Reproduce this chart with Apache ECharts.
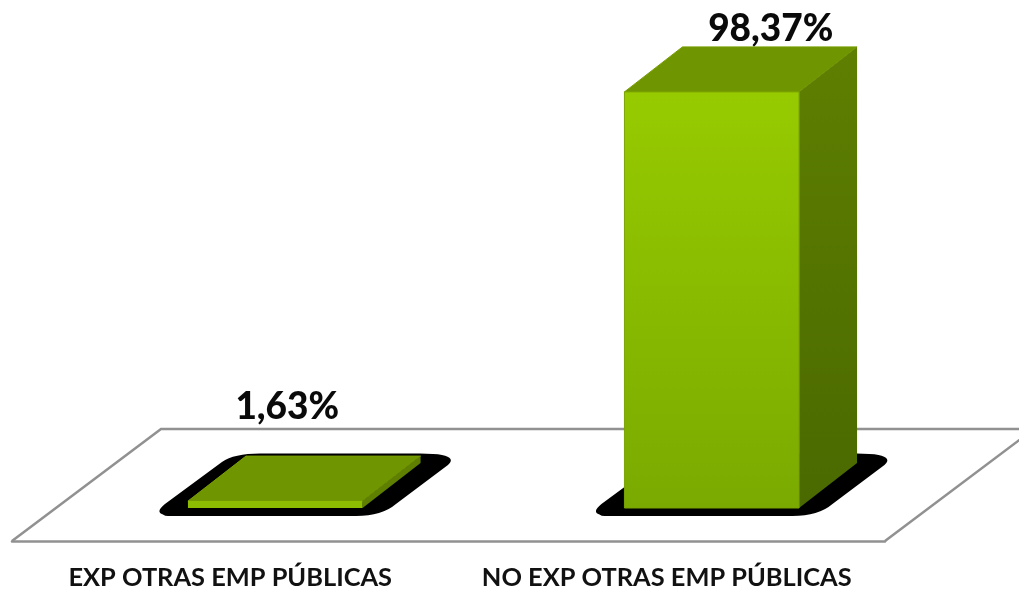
<!DOCTYPE html>
<html>
<head>
<meta charset="utf-8">
<style>
  html, body { margin: 0; padding: 0; background: #fff; }
  #chart { width: 1019px; height: 590px; }
</style>
<script src="https://cdn.jsdelivr.net/npm/echarts@6/dist/echarts.min.js"></script>
</head>
<body>
<div id="chart"></div>
<script>
var categories = ["EXP OTRAS EMP PÚBLICAS", "NO EXP OTRAS EMP PÚBLICAS"];
var values = [1.63, 98.37];
var valueLabels = ["1,63%", "98,37%"];

// the labels were placed by hand in the original, so each has its own nudge
var labelNudge = [[12, -94], [59, -63]];

var FONT = "Lato, 'Open Sans', sans-serif";
var FLOOR_DX = 149, FLOOR_DY = 112;
var SHIFT_X = 45, SHIFT_Y = 33; // bars stand in the middle of the floor depth
var DEPTH_X = 58, DEPTH_Y = 45;

function vgrad(top, bottom) {
  return new echarts.graphic.LinearGradient(0, 0, 0, 1, [
    { offset: 0, color: top },
    { offset: 1, color: bottom }
  ]);
}

var shadowPath =
  "M-20,8 L168,8 Q194,8 208,-4 L260,-43 Q268,-50 254,-53 Q247,-54.5 232,-54.5 " +
  "L72,-54.5 Q46,-54.5 34,-46 L-23,-4 Q-33,4 -25,6.5 Q-23,8 -20,8 Z";

function renderFloor(params) {
  var c = params.coordSys;
  var x0 = c.x, x1 = c.x + c.width, y0 = c.y + c.height;
  return {
    type: "polyline",
    shape: {
      points: [
        [x0, y0],
        [x0 + FLOOR_DX, y0 - FLOOR_DY],
        [x1 + FLOOR_DX, y0 - FLOOR_DY],
        [x1, y0]
      ]
    },
    style: { stroke: "#919191", lineWidth: 2.5, fill: null }
  };
}

function renderBar(params, api) {
  var i = api.value(0);
  var base = api.coord([i, 0]);
  var top = api.coord([i, api.value(1)]);
  var w = api.size([1, 0])[0] * 0.4;
  var l = base[0] - w / 2 + SHIFT_X;
  var r = l + w;
  var by = base[1] - SHIFT_Y;
  var ty = top[1] - SHIFT_Y;
  var tall = by - ty > 50;

  return {
    type: "group",
    children: [
      {
        type: "path",
        x: l,
        y: by,
        shape: { pathData: shadowPath },
        style: { fill: "#000" }
      },
      {
        type: "polygon",
        shape: { points: [[l, ty], [l + DEPTH_X, ty - DEPTH_Y], [r + DEPTH_X, ty - DEPTH_Y], [r, ty]] },
        style: { fill: "#6f9500", stroke: "#779e00", lineWidth: 1 }
      },
      {
        type: "polygon",
        shape: { points: [[r, ty], [r + DEPTH_X, ty - DEPTH_Y], [r + DEPTH_X, by - DEPTH_Y], [r, by]] },
        style: { fill: tall ? vgrad("#5e7f00", "#4a6900") : "#5e7f00" }
      },
      {
        type: "rect",
        shape: { x: l, y: ty, width: w, height: by - ty },
        style: { fill: tall ? vgrad("#97cb00", "#7aaa00") : "#8dbd00", stroke: "#7ba300", lineWidth: tall ? 1 : 0 }
      },
      {
        type: "text",
        x: base[0] + SHIFT_X + labelNudge[i][0],
        y: ty + labelNudge[i][1],
        style: {
          text: valueLabels[i],
          font: "900 37px " + FONT,
          fill: "#0a0a0a",
          align: "center",
          verticalAlign: "middle"
        }
      }
    ]
  };
}

var chart = echarts.init(document.getElementById("chart"));
chart.setOption({
  animation: false,
  backgroundColor: "#fff",
  grid: { left: 12, width: 873, bottom: 47, top: 118 },
  xAxis: {
    type: "category",
    data: categories,
    axisLine: { show: true, lineStyle: { color: "#919191", width: 2.5 } },
    axisTick: { show: false },
    splitLine: { show: false },
    axisLabel: {
      interval: 0,
      margin: 24,
      color: "#111",
      fontFamily: FONT,
      fontWeight: "bold",
      fontSize: 25.4
    }
  },
  yAxis: { type: "value", min: 0, max: 100, show: false },
  series: [
    {
      type: "custom",
      silent: true,
      data: [[0, 0]],
      z: 1,
      renderItem: renderFloor
    },
    {
      type: "custom",
      silent: true,
      z: 2,
      data: values.map(function (v, i) { return [i, v]; }),
      encode: { x: 0, y: 1 },
      renderItem: renderBar
    }
  ]
});
</script>
</body>
</html>
